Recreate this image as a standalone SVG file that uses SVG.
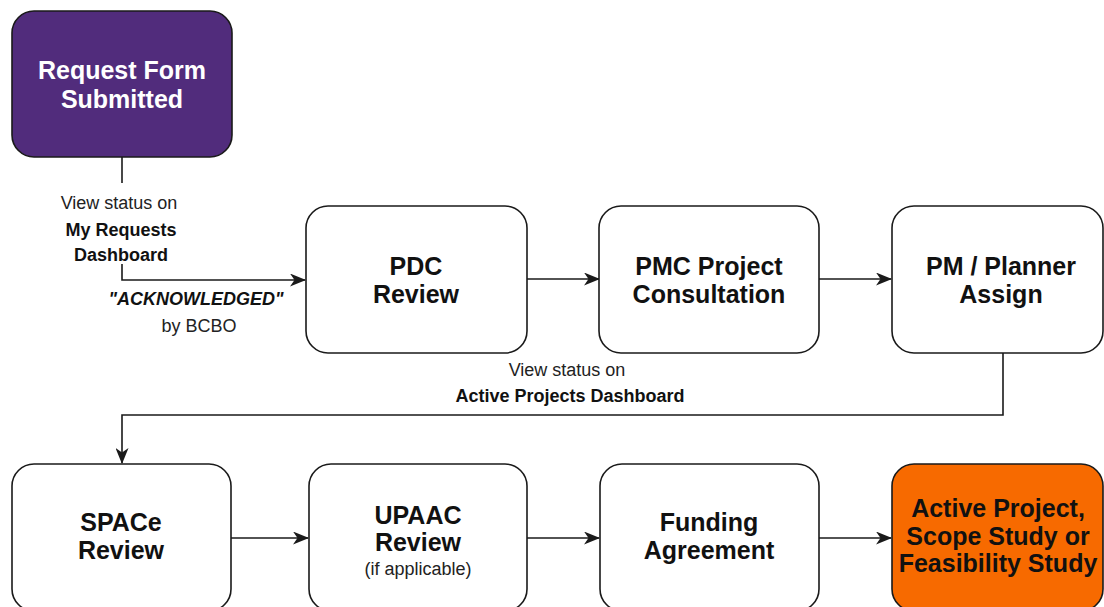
<svg xmlns="http://www.w3.org/2000/svg" width="1104" height="607" viewBox="0 0 1104 607">
<style>
.box{fill:#ffffff;stroke:#1a1a1a;stroke-width:1.6}
.t{font-family:"Liberation Sans",Arial,sans-serif;font-weight:bold;font-size:25px;fill:#111;text-anchor:middle}
.s{font-family:"Liberation Sans",Arial,sans-serif;font-size:18px;fill:#222;text-anchor:middle}
.sb{font-weight:bold;fill:#111}
.c{fill:none;stroke:#1a1a1a;stroke-width:1.6}
</style>
<defs>
<marker id="arr" markerUnits="userSpaceOnUse" markerWidth="16" markerHeight="13" viewBox="0 0 16 13" refX="15" refY="6.5" orient="auto">
<path d="M0,0 L16,6.5 L0,13 L4.5,6.5 z" fill="#1a1a1a"/>
</marker>
</defs>
<rect width="1104" height="607" fill="#ffffff"/>
<g id="connectors">
<path class="c" d="M122,157 V183"/>
<path class="c" d="M122,264 V280 H305" marker-end="url(#arr)"/>
<path class="c" d="M527,279 H599" marker-end="url(#arr)"/>
<path class="c" d="M819,279 H891" marker-end="url(#arr)"/>
<path class="c" d="M1003,353 V415 H122 V463" marker-end="url(#arr)"/>
<path class="c" d="M231,538 H308" marker-end="url(#arr)"/>
<path class="c" d="M527,538 H599" marker-end="url(#arr)"/>
<path class="c" d="M819,538 H891" marker-end="url(#arr)"/>
<text class="s" x="119" y="209">View status on</text>
<text class="s sb" x="121" y="236">My Requests</text>
<text class="s sb" x="121" y="261">Dashboard</text>
<text class="s sb" x="196" y="305" font-style="italic">"ACKNOWLEDGED"</text>
<text class="s" x="199" y="332">by BCBO</text>
<text class="s" x="567" y="376">View status on</text>
<text class="s sb" x="570" y="402">Active Projects Dashboard</text>
</g>
<g id="request">
<rect x="12" y="11" width="220" height="146" rx="22" fill="#512c7c" stroke="#1a1a1a" stroke-width="1.6"/>
<text class="t" x="122" y="79" style="fill:#fff">Request Form</text>
<text class="t" x="122" y="108" style="fill:#fff">Submitted</text>
</g>
<g id="pdc">
<rect class="box" x="306" y="206" width="221" height="147" rx="22"/>
<text class="t" x="416" y="275">PDC</text>
<text class="t" x="416" y="303">Review</text>
</g>
<g id="pmc">
<rect class="box" x="599" y="206" width="220" height="147" rx="22"/>
<text class="t" x="709" y="275">PMC Project</text>
<text class="t" x="709" y="303">Consultation</text>
</g>
<g id="pm">
<rect class="box" x="892" y="206" width="211" height="147" rx="22"/>
<text class="t" x="1001" y="275">PM / Planner</text>
<text class="t" x="1001" y="303">Assign</text>
</g>
<g id="space">
<rect class="box" x="12" y="464" width="219" height="147" rx="22"/>
<text class="t" x="121" y="531">SPACe</text>
<text class="t" x="121" y="559">Review</text>
</g>
<g id="upaac">
<rect class="box" x="309" y="464" width="218" height="147" rx="22"/>
<text class="t" x="418" y="524">UPAAC</text>
<text class="t" x="418" y="551">Review</text>
<text class="s" x="418" y="575">(if applicable)</text>
</g>
<g id="funding">
<rect class="box" x="600" y="464" width="219" height="147" rx="22"/>
<text class="t" x="709" y="531">Funding</text>
<text class="t" x="709" y="559">Agreement</text>
</g>
<g id="active">
<rect x="892" y="464" width="211" height="147" rx="22" fill="#f76a00" stroke="#1a1a1a" stroke-width="1.6"/>
<text class="t" x="998" y="517">Active Project,</text>
<text class="t" x="998" y="545">Scope Study or</text>
<text class="t" x="998" y="572">Feasibility Study</text>
</g>
</svg>
